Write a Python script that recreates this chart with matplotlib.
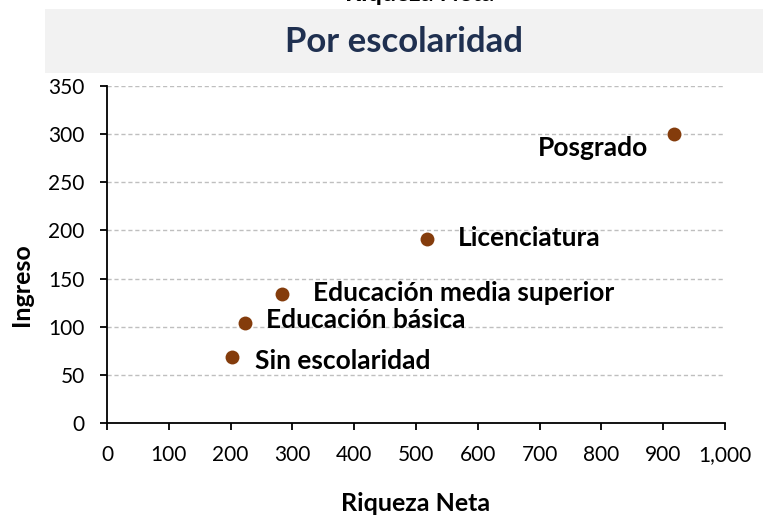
import matplotlib
matplotlib.use('Agg')
import matplotlib.pyplot as plt
from matplotlib.ticker import FuncFormatter, MultipleLocator
from matplotlib.patches import Rectangle

plt.rcParams['font.family'] = ['Lato', 'DejaVu Sans']

# data
categorias = ['Sin escolaridad', 'Educación básica', 'Educación media superior',
              'Licenciatura', 'Posgrado']
riqueza = [202, 223, 284, 518, 918]
ingreso = [69, 104, 134, 191, 300]

# label offsets (points) and alignment, per point
offsets = [(17, -3), (15, 2), (22, 1), (22, 1), (-19, -10)]
aligns = ['left', 'left', 'left', 'left', 'right']

brown = '#843C0C'
navy = '#1F3050'

fig = plt.figure(figsize=(7.63, 5.17), dpi=100)
ax = fig.add_axes([0.1402, 0.1818, 0.81, 0.652])

# grey title band
fig.patches.append(Rectangle((45 / 763, 1 - 73 / 517), 1 - 45 / 763, 64 / 517,
                             transform=fig.transFigure, facecolor='#F2F2F2',
                             edgecolor='none', zorder=0))
fig.text(0.53, 1 - 42 / 517, 'Por escolaridad', ha='center', va='center',
         fontsize=25, fontweight='bold', color=navy)
# cut-off text at the very top
fig.text(0.55, 1 - 1 / 517, 'Riqueza Neta', ha='center', va='baseline',
         fontsize=18, fontweight='bold', color='black')

ax.scatter(riqueza, ingreso, s=100, color=brown, zorder=3, linewidths=0)
for x, y, lab, off, ha in zip(riqueza, ingreso, categorias, offsets, aligns):
    ax.annotate(lab, (x, y), xytext=off, textcoords='offset points',
                ha=ha, va='center', fontsize=19, fontweight='bold')

ax.set_xlim(0, 1000)
ax.set_ylim(0, 350)
ax.xaxis.set_major_locator(MultipleLocator(100))
ax.yaxis.set_major_locator(MultipleLocator(50))
ax.xaxis.set_major_formatter(FuncFormatter(lambda v, p: '{:,.0f}'.format(v)))

ax.grid(axis='y', color='#BFBFBF', linestyle=(0, (3, 2)), linewidth=1)
ax.set_axisbelow(True)
for s in ['top', 'right']:
    ax.spines[s].set_visible(False)
for s in ['left', 'bottom']:
    ax.spines[s].set_linewidth(1.3)
ax.tick_params(length=5, width=1.3, labelsize=15, pad=11)

ax.set_xlabel('Riqueza Neta', fontsize=18, fontweight='bold')
ax.set_ylabel('Ingreso', fontsize=18, fontweight='bold')
ax.xaxis.set_label_coords(0.5, -0.205)
ax.yaxis.set_label_coords(-0.12, 0.41)

fig.savefig('out.png', dpi=100)
